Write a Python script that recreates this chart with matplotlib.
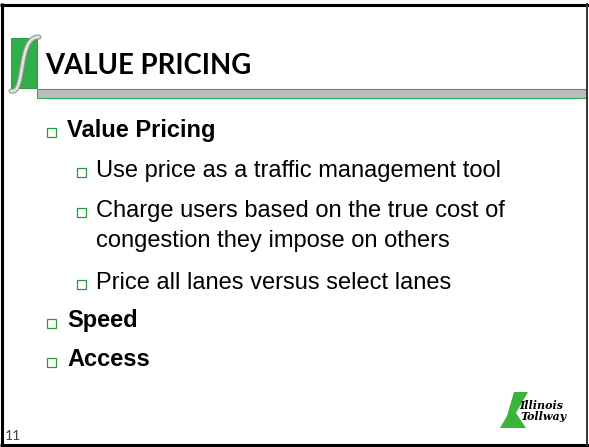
import matplotlib.pyplot as plt
from matplotlib.patches import Rectangle, Polygon, PathPatch
from matplotlib.path import Path

# slide content
title = "VALUE PRICING"
bullet_text = [
    "Value Pricing",
    "Use price as a traffic management tool",
    "Charge users based on the true cost of",
    "congestion they impose on others",
    "Price all lanes versus select lanes",
    "Speed",
    "Access",
]
bullet_level = [1, 2, 2, 0, 2, 1, 1]  # 0 = continuation line, no bullet
bullet_base = [136.5, 176.7, 216.7, 247.0, 289.0, 327.5, 366.5]
logo_words = ["Illinois", "Tollway"]
page_number = "11"

GREEN = "#1f9e3c"

fig = plt.figure(figsize=(5.89, 4.47), dpi=100)
ax = fig.add_axes([0, 0, 1, 1])
ax.set_xlim(0, 589)
ax.set_ylim(447, 0)
ax.axis("off")

# slide frame
ax.plot([1.5, 1.5], [3, 446], color="black", lw=2.2, solid_capstyle="butt")
ax.plot([0, 589], [4.5, 4.5], color="black", lw=2.2, solid_capstyle="butt")
ax.plot([0, 589], [445, 445], color="black", lw=2.2, solid_capstyle="butt")
ax.plot([587, 587], [3, 446], color="#333333", lw=1.4, solid_capstyle="butt")

# title bar
ax.add_patch(Rectangle((37, 89), 549, 9, facecolor="#bcbcbc",
                       edgecolor="#22b05a", lw=0.8))
ax.add_patch(Rectangle((11, 38), 26, 50, facecolor="#2fae49",
                       edgecolor="#1e8f38", lw=0.6))
s_curve = Path([(11, 91), (26, 95), (17, 36), (39, 37)],
               [Path.MOVETO, Path.CURVE4, Path.CURVE4, Path.CURVE4])
ax.add_patch(PathPatch(s_curve, facecolor="none", edgecolor="#8f918f", lw=3.6,
                       capstyle="round"))
ax.add_patch(PathPatch(s_curve, facecolor="none", edgecolor="#d6d8d6", lw=2.2,
                       capstyle="round"))
ax.add_patch(PathPatch(s_curve, facecolor="none", edgecolor="white", lw=0.6,
                       linestyle=(0, (2, 1.5))))

ax.text(45, 73.5, title, fontsize=19.8, fontweight="bold", family="Lato",
        va="baseline", ha="left", color="black")

# bullets
for text, level, base in zip(bullet_text, bullet_level, bullet_base):
    bold = level == 1
    tx = 67 if level == 1 else 96
    if level == 1:
        ax.add_patch(Rectangle((47, base - 9), 9, 9, facecolor="white",
                               edgecolor=GREEN, lw=0.9))
    elif level == 2:
        ax.add_patch(Rectangle((77, base - 9), 9, 9, facecolor="white",
                               edgecolor=GREEN, lw=0.9))
    ax.text(tx, base, text, fontsize=17, family="Liberation Sans",
            fontweight="bold" if bold else "normal",
            va="baseline", ha="left", color="black")

# tollway logo
ax.add_patch(Polygon([(514, 392), (528, 392), (516, 413), (526, 428),
                      (500, 428), (507, 416)],
                     closed=True, facecolor="#3cb43c", edgecolor="none"))
ax.text(519, 409, logo_words[0], fontsize=8, family="DejaVu Serif",
        fontweight="bold", fontstyle="italic", va="baseline", color="black")
ax.text(520, 419.5, logo_words[1], fontsize=8, family="DejaVu Serif",
        fontweight="bold", fontstyle="italic", va="baseline", color="black")

ax.text(5, 440.5, page_number, fontsize=10, family="Lato", va="baseline",
        color="#404040")

fig.savefig("out.png", dpi=100)
